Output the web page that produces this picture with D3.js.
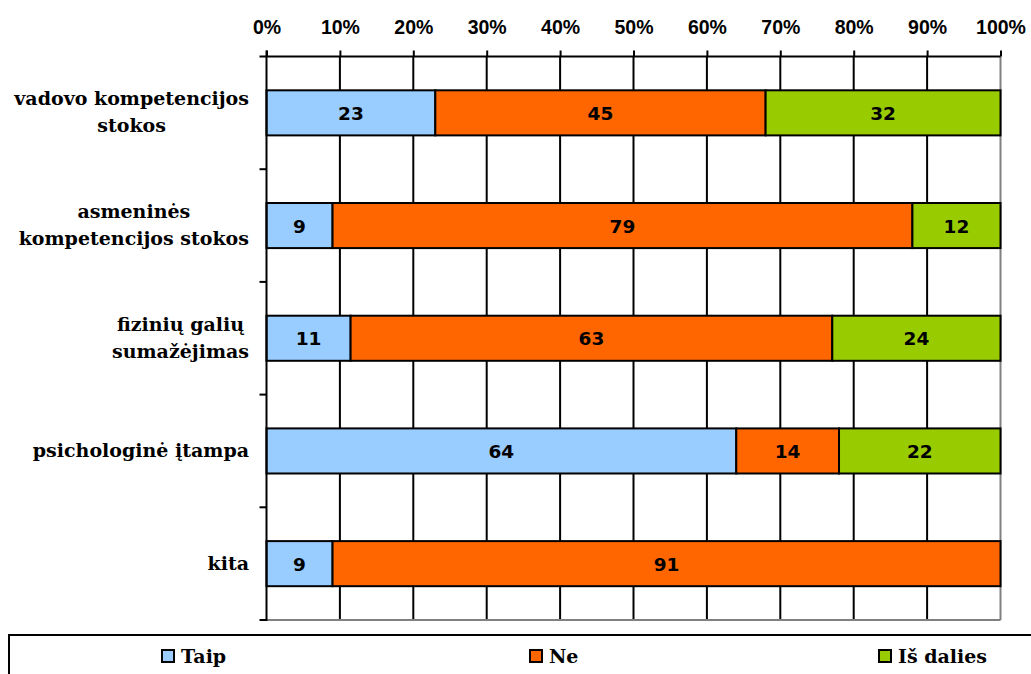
<!DOCTYPE html>
<html>
<head>
<meta charset="utf-8">
<script src="https://cdn.jsdelivr.net/npm/d3@7"></script>
<style>
  body { margin: 0; background: #fff; }
  svg { display: block; }
</style>
</head>
<body>
<svg id="chart" width="1031" height="674"></svg>
<script>
// categories, top to bottom (each label split in lines as drawn)
var categories = [
  ['vadovo kompetencijos', 'stokos'],
  ['asmeninės', 'kompetencijos stokos'],
  ['fizinių galių', 'sumažėjimas'],
  ['psichologinė įtampa'],
  ['kita']
];
var seriesNames = ['Taip', 'Ne', 'Iš dalies'];
var seriesColors = ['#99ccff', '#ff6600', '#99cc00'];

// values per category (stacked to 100%)
var taip = [23, 9, 11, 64, 9];
var ne = [45, 79, 63, 14, 91];
var isDalies = [32, 12, 22, 22, 0];
// labels as printed on the bars
var taipLabels = ['23', '9', '11', '64', '9'];
var neLabels = ['45', '79', '63', '14', '91'];
var isDaliesLabels = ['32', '12', '24', '22', ''];

var tickValues = [0, 0.1, 0.2, 0.3, 0.4, 0.5, 0.6, 0.7, 0.8, 0.9, 1];

var margin = { left: 266.5, top: 56.5, right: 1000.5, bottom: 620 };
var svg = d3.select('#chart');

var x = d3.scaleLinear().domain([0, 1]).range([margin.left, margin.right]);
var y = d3.scaleBand().domain(d3.range(categories.length))
  .range([margin.top, margin.bottom]).padding(0);

var rows = categories.map(function(c, i) {
  var vals = [taip[i], ne[i], isDalies[i]];
  var labs = [taipLabels[i], neLabels[i], isDaliesLabels[i]];
  var total = d3.sum(vals);
  var acc = 0;
  var segs = vals.map(function(v, k) {
    var s = { k: k, x0: acc / total, x1: (acc + v) / total, v: v, label: labs[k] };
    acc += v;
    return s;
  });
  return { i: i, segs: segs };
});

// vertical gridlines
svg.append('g').selectAll('line').data(tickValues.slice(1, -1)).enter()
  .append('line')
  .attr('x1', x).attr('x2', x)
  .attr('y1', margin.top).attr('y2', margin.bottom)
  .attr('stroke', '#000').attr('stroke-width', 2);

// plot border (right, bottom in grey)
svg.append('line').attr('x1', margin.right).attr('x2', margin.right)
  .attr('y1', margin.top).attr('y2', margin.bottom)
  .attr('stroke', '#808080').attr('stroke-width', 2);
svg.append('line').attr('x1', margin.left).attr('x2', margin.right)
  .attr('y1', margin.bottom).attr('y2', margin.bottom)
  .attr('stroke', '#808080').attr('stroke-width', 2);

// bars
var bh = y.bandwidth() * 0.4;
var rowG = svg.append('g').selectAll('g').data(rows).enter()
  .append('g')
  .attr('transform', function(d) { return 'translate(0,' + (y(d.i) + y.bandwidth() * 0.3) + ')'; });

rowG.selectAll('rect').data(function(d) { return d.segs.filter(function(s) { return s.v > 0; }); })
  .enter().append('rect')
  .attr('x', function(s) { return x(s.x0); })
  .attr('width', function(s) { return x(s.x1) - x(s.x0); })
  .attr('y', 0).attr('height', bh)
  .attr('fill', function(s) { return seriesColors[s.k]; })
  .attr('stroke', '#000').attr('stroke-width', 2);

rowG.selectAll('text').data(function(d) { return d.segs.filter(function(s) { return s.label; }); })
  .enter().append('text')
  .attr('x', function(s) { return (x(s.x0) + x(s.x1)) / 2; })
  .attr('y', bh / 2 + 7)
  .attr('text-anchor', 'middle')
  .style('font', 'bold 18.5px "DejaVu Sans", Verdana, sans-serif')
  .text(function(s) { return s.label; });

// top axis
var xAxis = d3.axisTop(x).tickValues(tickValues).tickSize(6).tickPadding(16.5)
  .tickFormat(d3.format('.0%'));
var gx = svg.append('g').attr('transform', 'translate(0,' + margin.top + ')').call(xAxis);
gx.select('.domain').remove();
gx.append('line').attr('x1', margin.left - 7).attr('x2', margin.right)
  .attr('stroke', '#000').attr('stroke-width', 2);
gx.selectAll('.tick line').attr('stroke', '#000').attr('stroke-width', 2);
gx.selectAll('.tick text')
  .style('font', 'bold 19.5px "Liberation Sans", Arial, sans-serif')
  .attr('fill', '#000').attr('dy', '0');

// left axis: ticks at band boundaries
var bounds = d3.range(categories.length + 1).map(function(i) {
  return margin.top + i * y.step();
});
var gy = svg.append('g');
gy.append('line').attr('x1', margin.left).attr('x2', margin.left)
  .attr('y1', margin.top - 6).attr('y2', margin.bottom + 1)
  .attr('stroke', '#000').attr('stroke-width', 2);
gy.selectAll('line.tk').data(bounds.slice(1)).enter()
  .append('line').attr('class', 'tk')
  .attr('x1', margin.left - 7).attr('x2', margin.left)
  .attr('y1', function(d) { return d; }).attr('y2', function(d) { return d; })
  .attr('stroke', '#000').attr('stroke-width', 2);

// category labels, centred block, right edge at 249
var labelFont = 'bold 19px "DejaVu Serif", "Bookman Old Style", serif';
categories.forEach(function(lines, i) {
  var g = svg.append('g');
  var cy = y(i) + y.bandwidth() / 2;
  var lh = 27;
  var t = g.selectAll('text').data(lines).enter().append('text')
    .attr('y', function(d, k) { return cy + 6 + (k - (lines.length - 1) / 2) * lh; })
    .attr('text-anchor', 'middle')
    .style('font', labelFont)
    .text(function(d) { return d; });
  var maxW = 0;
  t.each(function() { maxW = Math.max(maxW, this.getComputedTextLength()); });
  t.attr('x', 249 - maxW / 2);
});

// legend
var lg = svg.append('g');
lg.append('rect').attr('x', 9).attr('y', 635).attr('width', 1040).attr('height', 60)
  .attr('fill', '#fff').attr('stroke', '#000').attr('stroke-width', 2);
var legendX = [162, 530, 879];
seriesNames.forEach(function(n, k) {
  lg.append('rect').attr('x', legendX[k]).attr('y', 650).attr('width', 12).attr('height', 12)
    .attr('fill', seriesColors[k]).attr('stroke', '#000').attr('stroke-width', 2);
  lg.append('text').attr('x', legendX[k] + 19).attr('y', 663)
    .style('font', labelFont).text(n);
});
</script>
</body>
</html>
